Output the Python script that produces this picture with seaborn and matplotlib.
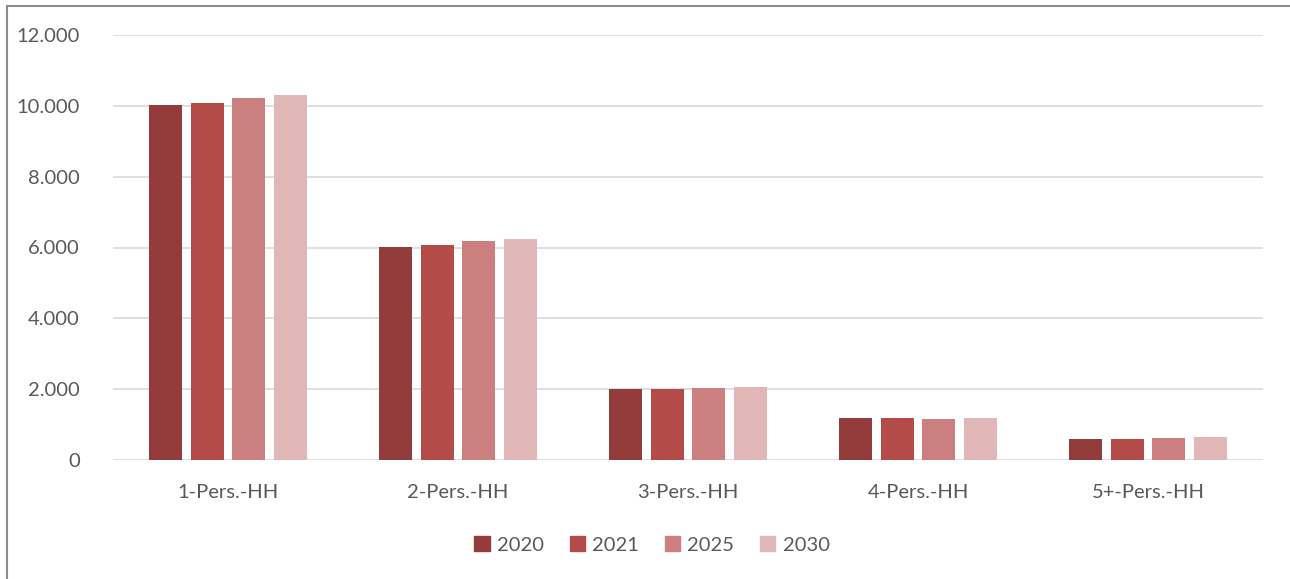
import matplotlib
matplotlib.use("Agg")
import matplotlib.pyplot as plt
import seaborn as sns
import pandas as pd
from matplotlib.ticker import FuncFormatter
from matplotlib.patches import Rectangle
from matplotlib.lines import Line2D

categories = ["1-Pers.-HH", "2-Pers.-HH", "3-Pers.-HH", "4-Pers.-HH", "5+-Pers.-HH"]
years = ["2020", "2021", "2025", "2030"]
v2020 = [10020, 6010, 2000, 1180, 590]
v2021 = [10080, 6070, 2010, 1180, 580]
v2025 = [10220, 6170, 2040, 1170, 620]
v2030 = [10300, 6240, 2060, 1190, 640]
colors = ["#943C3B", "#B34B48", "#CB7F7E", "#E0B6B6"]

rows = []
for y, vals in zip(years, [v2020, v2021, v2025, v2030]):
    for c, v in zip(categories, vals):
        rows.append({"cat": c, "year": y, "value": v})
df = pd.DataFrame(rows)

sns.set_theme(style="white")
plt.rcParams["font.family"] = ["Lato", "DejaVu Sans"]
txt = "#595959"

fig = plt.figure(figsize=(12.9, 5.79), dpi=100)
ax = fig.add_axes([113/1290, 1-460/579, 1150/1290, 425/579])
sns.barplot(data=df, x="cat", y="value", hue="year", palette=colors, saturation=1,
            width=0.722, gap=0.205, ax=ax, edgecolor="none", linewidth=0,
            hue_order=years, order=categories, zorder=3)
ax.set_ylim(0, 12000)
ax.set_yticks(range(0, 12001, 2000))
ax.yaxis.set_major_formatter(FuncFormatter(lambda v, p: f"{int(v):,}".replace(",", ".")))
ax.grid(axis="y", color="#D9D9D9", linewidth=1.2, zorder=0)
ax.set_axisbelow(True)
for s in ax.spines.values():
    s.set_visible(False)
ax.tick_params(axis="both", length=0, labelsize=14.5, labelcolor=txt)
ax.tick_params(axis="y", pad=24)
ax.tick_params(axis="x", pad=17)
ax.set_xlabel("")
ax.set_ylabel("")
ax.legend_.remove()
handles = [Rectangle((0, 0), 1, 1, color=c) for c in colors]
fig.legend(handles, years, loc="center", bbox_to_anchor=(652/1290, 1-545/579),
           ncol=4, frameon=False, fontsize=14.5, labelcolor=txt,
           handlelength=0.75, handleheight=0.75, handletextpad=0.35, columnspacing=1.3)
x0, y0 = 7/1290, 1-6/579
fig.add_artist(Line2D([x0, x0], [0, y0], transform=fig.transFigure, color="#8C8C8C", linewidth=1.5))
fig.add_artist(Line2D([x0, 1], [y0, y0], transform=fig.transFigure, color="#8C8C8C", linewidth=1.5))
fig.savefig("out.png", dpi=100)
